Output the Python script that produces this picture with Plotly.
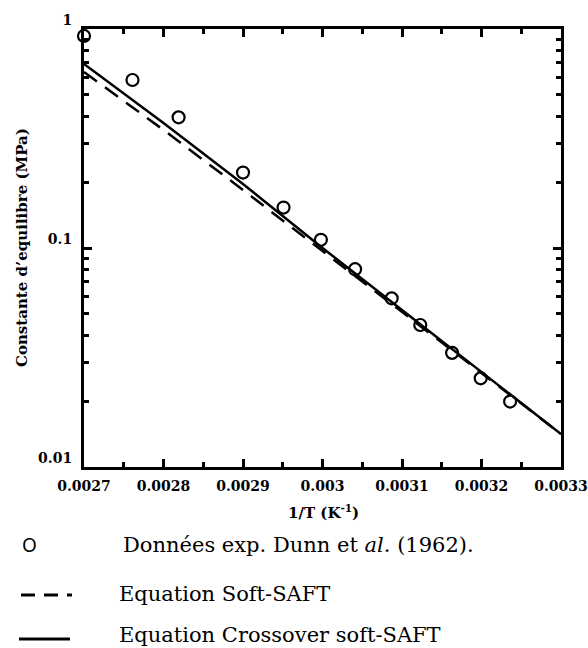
import plotly.graph_objects as go

# ---- data ----
x_exp = [0.0027, 0.002761, 0.002819, 0.0029, 0.002951, 0.002998, 0.003041,
         0.003087, 0.003123, 0.003163, 0.003199, 0.003236]
k_exp = [0.93, 0.585, 0.395, 0.221, 0.153, 0.109, 0.080, 0.0589, 0.0445,
         0.0332, 0.0254, 0.0199]

x_model = [0.0027, 0.0028, 0.0029, 0.0030, 0.0031, 0.0032, 0.0033]
k_softsaft = [0.636, 0.346, 0.184, 0.0969, 0.0510, 0.0269, 0.01415]
k_crossover = [0.692, 0.372, 0.196, 0.100, 0.0521, 0.0272, 0.01415]

x_ticks = [0.0027, 0.0028, 0.0029, 0.0030, 0.0031, 0.0032, 0.0033]
x_ticktext = ["0.0027", "0.0028", "0.0029", "0.003", "0.0031", "0.0032", "0.0033"]
y_ticks = [0.01, 0.1, 1]
y_ticktext = ["0.01", "0.1", "1"]

legend_texts = ["Données exp. Dunn et <i>al.</i> (1962).",
                "Equation Soft-SAFT",
                "Equation Crossover soft-SAFT"]

# ---- geometry ----
W, H = 588, 648
L, R, T, B = 84, 561, 29, 467


def px(x):
    return (x - L) / (R - L)


def py(y):
    return (B - y) / (B - T)


SERIF = "DejaVu Serif"

fig = go.Figure()
fig.add_trace(go.Scatter(x=x_model, y=k_softsaft, mode="lines",
                         line=dict(color="black", width=2.5, dash="16px,10px"),
                         showlegend=False))
fig.add_trace(go.Scatter(x=x_model, y=k_crossover, mode="lines",
                         line=dict(color="black", width=2.5),
                         showlegend=False))
fig.add_trace(go.Scatter(x=x_exp, y=k_exp, mode="markers",
                         marker=dict(symbol="circle-open", size=12, color="black",
                                     line=dict(width=2.2, color="black")),
                         cliponaxis=False, showlegend=False))

axis_common = dict(showline=True, linecolor="black", linewidth=3, mirror="ticks",
                   ticks="inside", tickcolor="black", tickwidth=2.5, ticklen=8,
                   showgrid=False, zeroline=False, automargin=False,
                   tickfont=dict(family=SERIF, size=14, color="black", weight="bold"))

fig.update_xaxes(range=[0.0027, 0.0033], tickmode="array", tickvals=x_ticks,
                 ticktext=x_ticktext, ticklabelstandoff=4,
                 minor=dict(tick0=0.0027, dtick=0.00005, ticks="inside", ticklen=5,
                            tickwidth=2.5, tickcolor="black", showgrid=False),
                 **axis_common)
fig.update_yaxes(type="log", range=[-2, 0], tickmode="array", tickvals=y_ticks,
                 ticktext=y_ticktext, ticklabelstandoff=6, ticklabelshift=-9,
                 minor=dict(dtick="D1", ticks="inside", ticklen=5,
                            tickwidth=2.5, tickcolor="black", showgrid=False),
                 **axis_common)

annotations = [
    dict(x=px(323), y=py(512), text="<b>1/T (K<sup>-1</sup>)</b>",
         font=dict(family=SERIF, size=15, color="black")),
    dict(x=px(22), y=py(248), text="<b>Constante d’equilibre (MPa)</b>", textangle=-90,
         font=dict(family=SERIF, size=15, color="black")),
    dict(x=px(29), y=py(545), text="O",
         font=dict(family="Noto Sans", size=19, color="black")),
    dict(x=px(121), y=py(545), text=legend_texts[0], xanchor="left",
         font=dict(family=SERIF, size=21, color="black")),
    dict(x=px(117), y=py(594), text=legend_texts[1], xanchor="left",
         font=dict(family=SERIF, size=21, color="black")),
    dict(x=px(117), y=py(635), text=legend_texts[2], xanchor="left",
         font=dict(family=SERIF, size=21, color="black")),
]
for a in annotations:
    a.update(xref="paper", yref="paper", showarrow=False)
    a.setdefault("xanchor", "center")
    a.setdefault("yanchor", "middle")

shapes = [
    dict(type="line", xref="paper", yref="paper", x0=px(21), x1=px(72),
         y0=py(595), y1=py(595), line=dict(color="black", width=3, dash="14px,9px")),
    dict(type="line", xref="paper", yref="paper", x0=px(19), x1=px(70),
         y0=py(639), y1=py(639), line=dict(color="black", width=3)),
]

fig.update_layout(width=W, height=H, autosize=False,
                  margin=dict(l=L, r=W - R, t=T, b=H - B),
                  paper_bgcolor="white", plot_bgcolor="white",
                  annotations=annotations, shapes=shapes, showlegend=False)

fig.write_html("out.html",
               config={"responsive": False, "displayModeBar": False},
               default_width="588px", default_height="648px",
               post_script=("document.body.style.margin='0';"
                            "document.body.style.overflow='hidden';"
                            "document.documentElement.style.overflow='hidden';"))
